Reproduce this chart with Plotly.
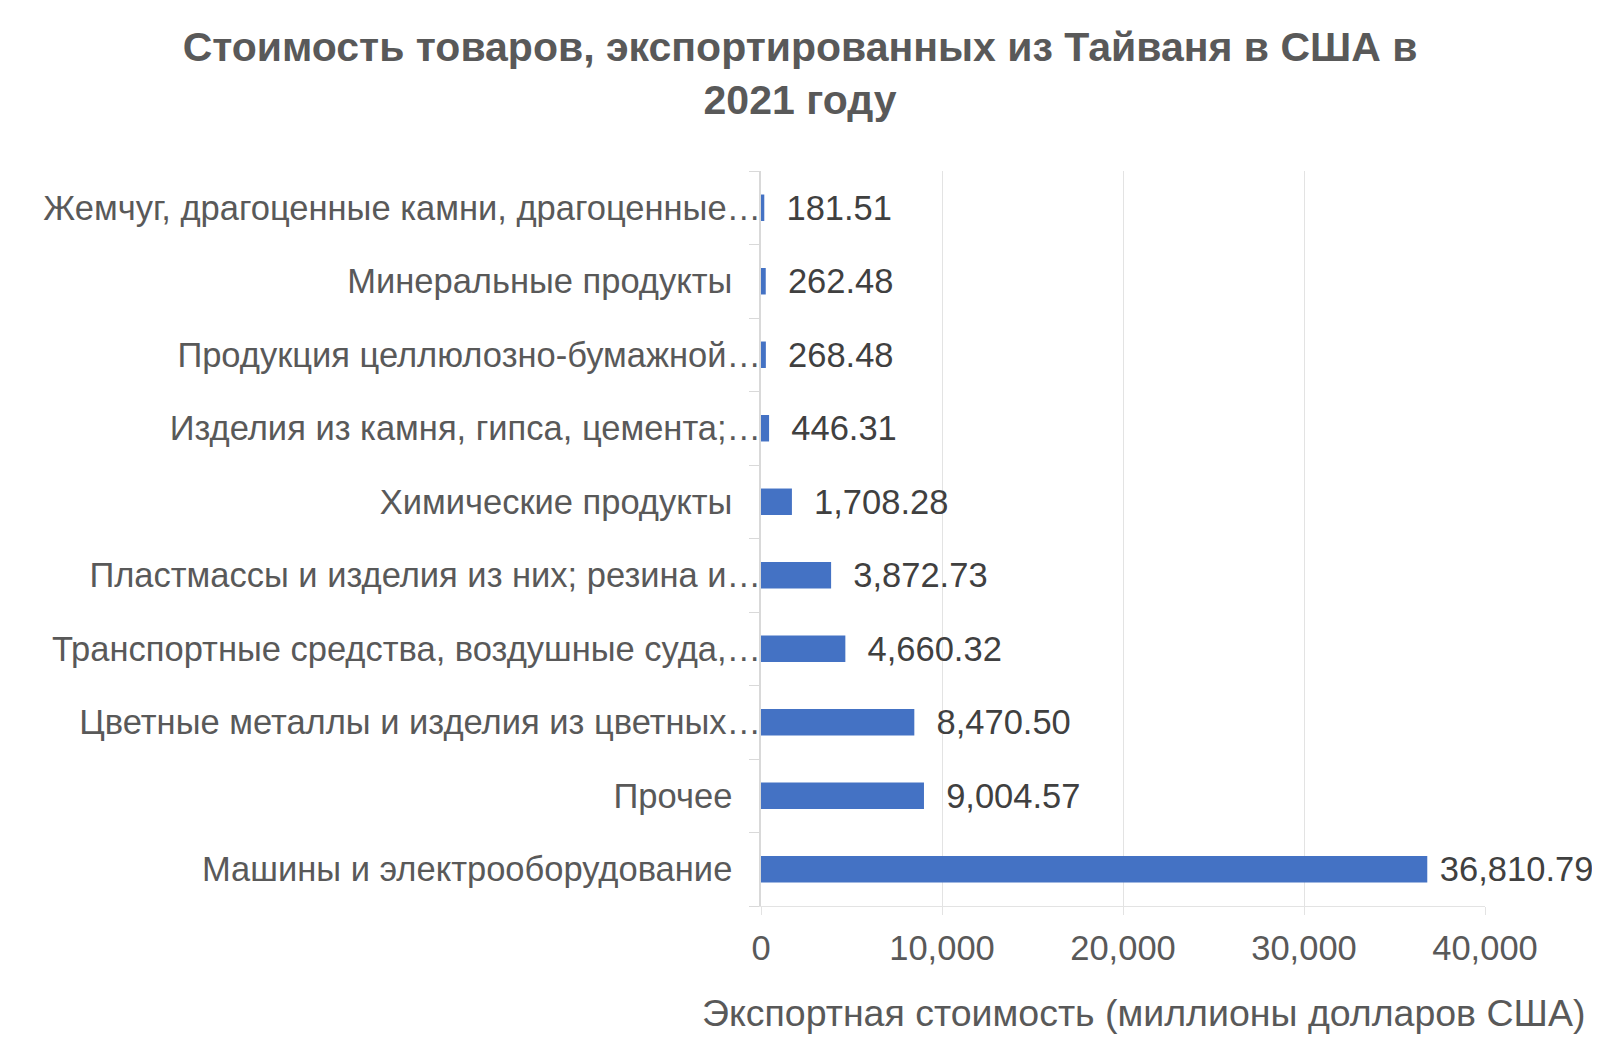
import plotly.graph_objects as go

# категории сверху вниз, как на исходном графике
categories = [
    "Жемчуг, драгоценные камни, драгоценные…",
    "Минеральные продукты",
    "Продукция целлюлозно-бумажной…",
    "Изделия из камня, гипса, цемента;…",
    "Химические продукты",
    "Пластмассы и изделия из них; резина и…",
    "Транспортные средства, воздушные суда,…",
    "Цветные металлы и изделия из цветных…",
    "Прочее",
    "Машины и электрооборудование",
]
values = [181.51, 262.48, 268.48, 446.31, 1708.28, 3872.73, 4660.32, 8470.50, 9004.57, 36810.79]

x_ticks = [0, 10000, 20000, 30000, 40000]

title_text = "<b>Стоимость товаров, экспортированных из Тайваня в США в<br>2021 году</b>"
x_title = "Экспортная стоимость (миллионы долларов США)"

font_family = "Liberation Sans, Arial, sans-serif"
text_color = "#595959"

# обрезанные подписи в Excel доходят до оси, полные стоят с отступом
y_labels = [c if c.endswith("…") else c + "\u00a0\u00a0\u00a0" for c in categories]

# у самого длинного столбца подпись прижата ближе к концу
templates = ["\u00a0%{x:,.2f}" if v == max(values) else "\u00a0\u00a0%{x:,.2f}" for v in values]

fig = go.Figure()

fig.add_trace(
    go.Bar(
        x=values,
        y=categories,
        orientation="h",
        marker=dict(color="#4472C4", line=dict(width=0)),
        width=0.36,
        texttemplate=templates,
        textposition="outside",
        textfont=dict(size=34.5, color="#404040", family=font_family),
        constraintext="none",
        cliponaxis=False,
        hoverinfo="skip",
    )
)

# страница имеет отступ body 8px, поэтому фигура сдвинута на 8px
fig.update_layout(
    title=dict(
        text=title_text,
        x=0.4975,
        xanchor="center",
        y=0.949,
        yanchor="middle",
        font=dict(size=41, color=text_color, family=font_family),
    ),
    width=1592,
    height=1043,
    margin=dict(l=753, r=115, t=163, b=145),
    plot_bgcolor="white",
    paper_bgcolor="white",
    showlegend=False,
    font=dict(family=font_family, color=text_color),
)

fig.update_xaxes(
    range=[0, 40000],
    tickvals=x_ticks,
    tickformat=",",
    showgrid=True,
    gridcolor="#e3e3e3",
    gridwidth=1,
    zeroline=False,
    showline=True,
    linecolor="#e3e3e3",
    linewidth=1,
    ticks="outside",
    ticklen=8,
    tickcolor="#e3e3e3",
    tickfont=dict(size=34.5, color=text_color),
    ticklabelstandoff=4,
)

fig.update_yaxes(
    autorange="reversed",
    tickmode="array",
    tickvals=categories,
    ticktext=y_labels,
    showgrid=False,
    showline=True,
    linecolor="#d9d9d9",
    linewidth=2,
    ticks="outside",
    tickson="boundaries",
    ticklen=10,
    tickcolor="#d9d9d9",
    tickfont=dict(size=34.5, color=text_color),
    ticklabelstandoff=-9,
)

fig.add_annotation(
    text=x_title,
    xref="paper",
    yref="paper",
    x=1.141,
    y=-0.1456,
    xanchor="right",
    yanchor="middle",
    showarrow=False,
    font=dict(size=37.5, color=text_color, family=font_family),
)

fig.write_html("out.html")
